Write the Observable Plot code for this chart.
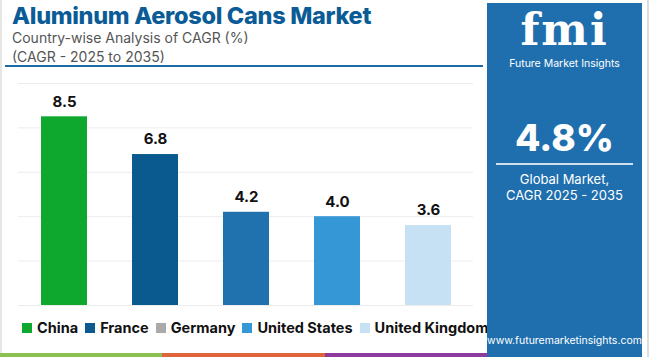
<!DOCTYPE html>
<html>
<head>
<meta charset="utf-8">
<script src="https://cdn.jsdelivr.net/npm/d3@7"></script>
<script src="https://cdn.jsdelivr.net/npm/@observablehq/plot@0.6"></script>
<style>
  html, body { margin: 0; padding: 0; background: #fff; }
  #page { position: relative; width: 650px; height: 357px; overflow: hidden; font-family: Inter, "Open Sans", sans-serif; background: #fff; }
  #title { position: absolute; left: 12px; top: 1px; font-size: 23.5px; line-height: 30px; font-weight: 800; color: #0b5c96; letter-spacing: -0.3px; white-space: nowrap; }
  .sub { position: absolute; left: 12px; font-size: 14px; line-height: 18px; color: #555; white-space: nowrap; }
  #rule { position: absolute; left: 5px; top: 65px; width: 478px; height: 2px; background: #1b6aa5; }
  #chart { position: absolute; left: 0; top: 70px; }
  #legend { position: absolute; left: 22px; top: 319px; display: flex; align-items: center; font-size: 14.5px; font-weight: 700; color: #111; white-space: nowrap; }
  #legend .item { display: flex; align-items: center; margin-right: 7px; }
  #legend .sw { width: 10px; height: 10px; margin-right: 5px; }
  #bottom { position: absolute; left: 0; top: 353px; height: 4px; width: 487px; display: flex; }
  #panel { position: absolute; left: 487px; top: 3px; width: 155px; height: 354px; background: #1f6fae; color: #fff; text-align: center; }
  #logo { position: absolute; left: 0; top: 5px; width: 155px; font-family: "DejaVu Serif", serif; font-weight: 700; font-size: 44px; line-height: 44px; height: 44px; letter-spacing: 2px; }
  #logosub { position: absolute; left: 0; top: 54px; width: 155px; font-size: 10.5px; line-height: 13px; }
  #big { position: absolute; left: 0; top: 112px; width: 155px; font-size: 37px; font-weight: 800; }
  #pline { position: absolute; left: 9px; top: 160px; width: 137px; height: 2px; background: #cfe0ee; }
  #glob { position: absolute; left: 0; top: 168px; width: 155px; font-size: 13px; line-height: 16px; }
  #url { position: absolute; left: 0; top: 331px; width: 155px; font-size: 10.5px; }
  #rightedge { position: absolute; left: 647px; top: 0; width: 2px; height: 357px; background: #ddd; }
  #leftedge { position: absolute; left: 0; top: 0; width: 2px; height: 357px; background: #e6e6e6; }
</style>
</head>
<body>
<div id="page">
  <div id="leftedge"></div>
  <div id="title">Aluminum Aerosol Cans Market</div>
  <div class="sub" style="top:29px">Country-wise Analysis of CAGR (%)</div>
  <div class="sub" style="top:48px">(CAGR - 2025 to 2035)</div>
  <div id="rule"></div>
  <div id="chart"></div>
  <div id="legend"></div>
  <div id="bottom"></div>
  <div id="panel">
    <div id="logo">fmi</div>
    <div id="logosub">Future Market Insights</div>
    <div id="big">4.8%</div>
    <div id="pline"></div>
    <div id="glob">Global Market,<br>CAGR 2025 - 2035</div>
    <div id="url">www.futuremarketinsights.com</div>
  </div>
  <div id="rightedge"></div>
</div>
<script>
const countries = ["China", "France", "Germany", "United States", "United Kingdom"];
const cagr = [8.5, 6.8, 4.2, 4.0, 3.6];
const barColors = ["#0fa82f", "#0a5a8f", "#1f72ae", "#3597d6", "#c5e1f3"];
const legendColors = ["#0fa82f", "#0a5a8f", "#aaaaaa", "#3597d6", "#c5e1f3"];
const gridTicks = [0, 2, 4, 6, 8, 10];
const bottomColors = ["#8cc152", "#e0643a", "#8e3a9c"];

const data = countries.map((c, i) => ({country: c, value: cagr[i], color: barColors[i]}));

const chart = Plot.plot({
  width: 480,
  height: 240,
  marginTop: 13,
  marginBottom: 5,
  marginLeft: 18,
  marginRight: 7,
  x: {domain: countries, paddingInner: 0.5, paddingOuter: 0.25, axis: null},
  y: {domain: [0, 10], axis: null},
  style: {fontFamily: "Inter, sans-serif", background: "transparent"},
  marks: [
    Plot.ruleY(gridTicks, {stroke: "#ececec", strokeWidth: 1}),
    Plot.barY(data, {x: "country", y: "value", fill: "color"}),
    Plot.text(data, {x: "country", y: "value", text: d => d.value.toFixed(1), dy: -15, fontSize: 15, fontWeight: 700, fill: "#111"})
  ]
});
document.getElementById("chart").appendChild(chart);

const legend = document.getElementById("legend");
countries.forEach((c, i) => {
  const item = document.createElement("div");
  item.className = "item";
  const sw = document.createElement("div");
  sw.className = "sw";
  sw.style.background = legendColors[i];
  const t = document.createElement("span");
  t.textContent = c;
  item.appendChild(sw);
  item.appendChild(t);
  legend.appendChild(item);
});

const bottom = document.getElementById("bottom");
bottomColors.forEach(col => {
  const s = document.createElement("div");
  s.style.flex = "1";
  s.style.background = col;
  bottom.appendChild(s);
});
</script>
</body>
</html>
